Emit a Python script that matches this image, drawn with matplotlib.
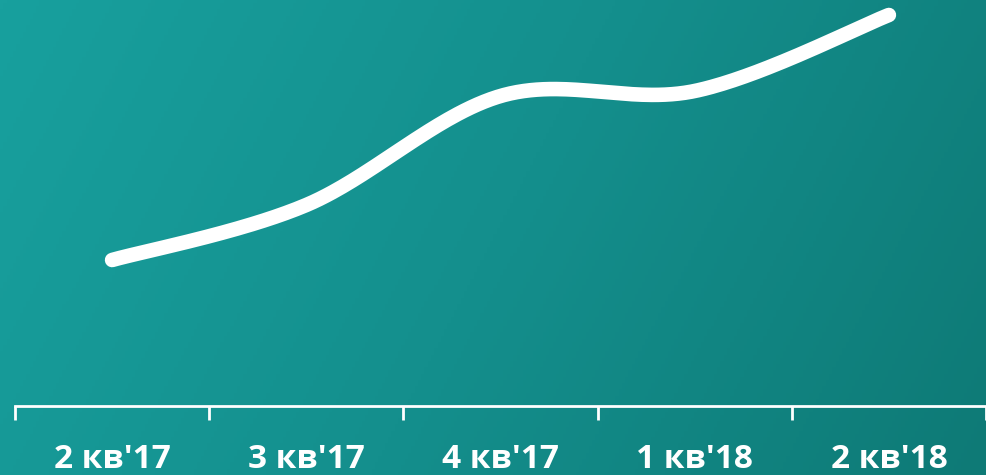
import numpy as np
import matplotlib.pyplot as plt
from matplotlib.colors import LinearSegmentedColormap

# data (arbitrary units)
quarters = ["2 кв'17", "3 кв'17", "4 кв'17", "1 кв'18", "2 кв'18"]
values = [146, 201, 310, 315, 391]

W, H, DPI = 987, 475, 100


def catmull_rom(xs, ys, n=60):
    # smoothing like office charts: bezier with 1/6 neighbour tangents
    xs = np.asarray(xs, float)
    ys = np.asarray(ys, float)
    px = np.concatenate([[xs[0]], xs, [xs[-1]]])
    py = np.concatenate([[ys[0]], ys, [ys[-1]]])
    out_x, out_y = [], []
    t = np.linspace(0, 1, n)
    for i in range(1, len(px) - 2):
        p0 = np.array([px[i], py[i]])
        p3 = np.array([px[i + 1], py[i + 1]])
        p1 = p0 + (np.array([px[i + 1], py[i + 1]]) - np.array([px[i - 1], py[i - 1]])) / 6
        p2 = p3 - (np.array([px[i + 2], py[i + 2]]) - np.array([px[i], py[i]])) / 6
        b = ((1 - t) ** 3)[:, None] * p0 + (3 * (1 - t) ** 2 * t)[:, None] * p1 \
            + (3 * (1 - t) * t ** 2)[:, None] * p2 + (t ** 3)[:, None] * p3
        out_x.extend(b[:, 0])
        out_y.extend(b[:, 1])
    return np.array(out_x), np.array(out_y)


fig = plt.figure(figsize=(W / DPI, H / DPI), dpi=DPI)

# background gradient
bg = fig.add_axes([0, 0, 1, 1])
gx, gy = np.meshgrid(np.linspace(0, 1, 300), np.linspace(0, 1, 150))
grad = 0.8 * gx + 0.2 * gy
cmap = LinearSegmentedColormap.from_list("bg", ["#18a09e", "#148f8d", "#0e7a76"])
bg.imshow(grad, cmap=cmap, aspect="auto", extent=[0, 1, 0, 1], origin="upper")
bg.axis("off")

ax = fig.add_axes([15 / W, (H - 406) / H, 971 / W, 406 / H])
ax.patch.set_alpha(0)

x = np.arange(len(quarters))
sx, sy = catmull_rom(x, values)
ax.plot(sx, sy, color="white", lw=10.5, solid_capstyle="round", clip_on=False)

ax.set_xlim(-0.5, len(quarters) - 0.5)
ax.set_ylim(0, 406)

for s in ["top", "right", "left"]:
    ax.spines[s].set_visible(False)
ax.spines["bottom"].set_color("white")
ax.spines["bottom"].set_linewidth(2)
ax.set_yticks([])

ax.set_xticks(x)
ax.set_xticklabels(quarters, fontsize=24, fontweight="bold", color="white",
                   family="Open Sans")
ax.tick_params(axis="x", which="major", length=0, pad=27)
ax.set_xticks(np.arange(-0.5, len(quarters)), minor=True)
ax.tick_params(axis="x", which="minor", length=10, width=2, color="white",
               direction="out")

fig.savefig("out.png", dpi=DPI)
